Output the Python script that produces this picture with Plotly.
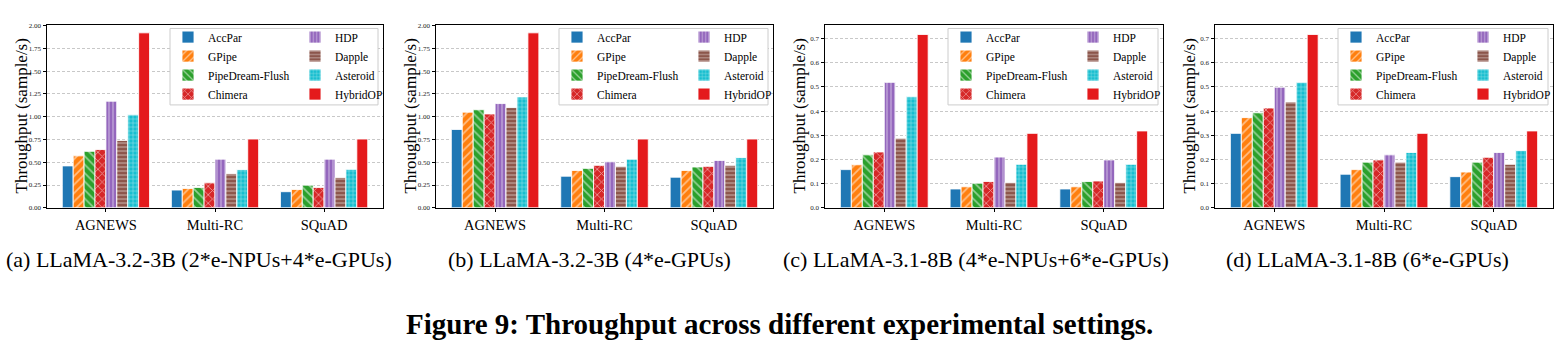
import plotly.graph_objects as go

W, H = 1559, 350

datasets = ["AGNEWS", "Multi-RC", "SQuAD"]
methods = ["AccPar", "GPipe", "PipeDream-Flush", "Chimera", "HDP", "Dapple", "Asteroid", "HybridOP"]

# values per method: [AGNEWS, Multi-RC, SQuAD]
vals_a = {
    "AccPar": [0.46, 0.195, 0.177],
    "GPipe": [0.57, 0.213, 0.202],
    "PipeDream-Flush": [0.62, 0.224, 0.249],
    "Chimera": [0.64, 0.274, 0.224],
    "HDP": [1.17, 0.534, 0.534],
    "Dapple": [0.74, 0.375, 0.332],
    "Asteroid": [1.02, 0.419, 0.422],
    "HybridOP": [1.92, 0.755, 0.755],
}
vals_b = {
    "AccPar": [0.86, 0.347, 0.336],
    "GPipe": [1.05, 0.41, 0.41],
    "PipeDream-Flush": [1.076, 0.433, 0.448],
    "Chimera": [1.03, 0.466, 0.455],
    "HDP": [1.144, 0.505, 0.52],
    "Dapple": [1.10, 0.455, 0.466],
    "Asteroid": [1.217, 0.534, 0.552],
    "HybridOP": [1.92, 0.755, 0.755],
}
vals_c = {
    "AccPar": [0.158, 0.078, 0.078],
    "GPipe": [0.178, 0.087, 0.087],
    "PipeDream-Flush": [0.219, 0.102, 0.109],
    "Chimera": [0.231, 0.109, 0.111],
    "HDP": [0.519, 0.21, 0.198],
    "Dapple": [0.288, 0.105, 0.105],
    "Asteroid": [0.459, 0.18, 0.18],
    "HybridOP": [0.717, 0.308, 0.318],
}
vals_d = {
    "AccPar": [0.308, 0.139, 0.129],
    "GPipe": [0.373, 0.158, 0.148],
    "PipeDream-Flush": [0.393, 0.189, 0.189],
    "Chimera": [0.413, 0.198, 0.209],
    "HDP": [0.499, 0.219, 0.229],
    "Dapple": [0.438, 0.189, 0.18],
    "Asteroid": [0.519, 0.229, 0.237],
    "HybridOP": [0.717, 0.308, 0.318],
}

captions = [
    "(a) LLaMA-3.2-3B (2*e-NPUs+4*e-GPUs)",
    "(b) LLaMA-3.2-3B (4*e-GPUs)",
    "(c) LLaMA-3.1-8B (4*e-NPUs+6*e-GPUs)",
    "(d) LLaMA-3.1-8B (6*e-GPUs)",
]
fig_title = "Figure 9: Throughput across different experimental settings."
y_title = "Throughput (sample/s)"

colors = {
    "AccPar": "#1f77b4", "GPipe": "#ff7f0e", "PipeDream-Flush": "#2ca02c",
    "Chimera": "#d62728", "HDP": "#9467bd", "Dapple": "#8c564b",
    "Asteroid": "#17becf", "HybridOP": "#e41a1c",
}
patterns = {
    "AccPar": ("", 6), "GPipe": ("/", 6), "PipeDream-Flush": ("\\", 6),
    "Chimera": ("x", 6), "HDP": ("|", 4), "Dapple": ("-", 4),
    "Asteroid": ("+", 4), "HybridOP": ("", 6),
}

panels = [vals_a, vals_b, vals_c, vals_d]
yranges = [[0, 2.0055], [0, 2.0055], [0, 0.756], [0, 0.756]]
ydticks = [0.25, 0.25, 0.1, 0.1]
yfmts = [".2f", ".2f", ".1f", ".1f"]

# pixel layout
ax_left = [47, 436, 825, 1215]
ax_right = [383, 773, 1163, 1553]
ax_top, ax_bot = 22.5, 209
SERIF = "Liberation Serif"

def px(x):
    return x / W

def py(y):
    return 1 - y / H

fig = go.Figure()
layout = dict(
    width=W, height=H, margin=dict(l=0, r=0, t=0, b=0),
    paper_bgcolor="white", plot_bgcolor="white",
    barmode="group", bargap=0.2, bargroupgap=0.0,
    font=dict(family=SERIF, color="black"),
)
shapes, annotations = [], []

for k, vals in enumerate(panels):
    xa = "x" if k == 0 else f"x{k+1}"
    ya = "y" if k == 0 else f"y{k+1}"
    for i, m in enumerate(methods):
        lid = 2 * k + (1 if i < 4 else 2)
        lname = "legend" if lid == 1 else f"legend{lid}"
        shape, size = patterns[m]
        fig.add_trace(go.Bar(
            x=datasets, y=vals[m], name=m, xaxis=xa, yaxis=ya,
            legend=lname, offsetgroup=str(i),
            marker=dict(
                color=colors[m],
                line=dict(color="rgba(255,255,255,0.85)", width=1),
                pattern=dict(shape=shape, fgcolor="white", bgcolor=colors[m],
                             size=size, solidity=0.28, fillmode="overlay"),
            ),
        ))
    xkey = "xaxis" if k == 0 else f"xaxis{k+1}"
    ykey = "yaxis" if k == 0 else f"yaxis{k+1}"
    layout[xkey] = dict(
        domain=[px(ax_left[k]), px(ax_right[k])], anchor=ya,
        type="category", categoryorder="array", categoryarray=datasets,
        range=[-0.54, 2.54], showline=True, linecolor="black", linewidth=1,
        mirror=True, ticks="outside", ticklen=3.5, tickcolor="black",
        tickfont=dict(family=SERIF, size=14.5, color="black"), showgrid=False,
    )
    layout[ykey] = dict(
        domain=[py(ax_bot), py(ax_top)], anchor=xa,
        range=yranges[k], dtick=ydticks[k], tick0=0, tickformat=yfmts[k],
        showline=True, linecolor="black", linewidth=1, mirror=True,
        ticks="outside", ticklen=3.5, tickcolor="black",
        tickfont=dict(family=SERIF, size=7, color="#222"),
        showgrid=True, gridcolor="#c8c8c8", griddash="3px,2px", gridwidth=0.8,
        zeroline=False,
    )
    # legend frame
    fx0 = ax_left[k] + 123
    fx1 = ax_right[k] - 5
    fy0, fy1 = 26, 104
    shapes.append(dict(type="rect", xref="paper", yref="paper",
                       x0=px(fx0), x1=px(fx1), y0=py(fy1), y1=py(fy0),
                       line=dict(color="#cccccc", width=1), fillcolor="white",
                       layer="above"))
    for col in range(2):
        lid = 2 * k + 1 + col
        lname = "legend" if lid == 1 else f"legend{lid}"
        lx = fx0 - 2 + col * 127
        layout[lname] = dict(
            x=px(lx), y=py(20), xanchor="left", yanchor="top",
            orientation="v", bgcolor="rgba(0,0,0,0)", borderwidth=0,
            font=dict(family=SERIF, size=11.5, color="black"),
            traceorder="normal", itemclick=False, itemdoubleclick=False,
        )
    # y title
    annotations.append(dict(
        text=y_title, xref="paper", yref="paper",
        x=px(ax_left[k] - 26), y=py((ax_top + ax_bot) / 2),
        xanchor="center", yanchor="middle", textangle=-90, showarrow=False,
        font=dict(family=SERIF, size=17, color="black"),
    ))

cap_cx = [199, 589, 976, 1367]
for k in range(4):
    annotations.append(dict(
        text=captions[k], xref="paper", yref="paper",
        x=px(cap_cx[k]), y=py(262), xanchor="center", yanchor="middle",
        showarrow=False, font=dict(family=SERIF, size=22, color="black"),
    ))
annotations.append(dict(
    text=f"<b>{fig_title}</b>", xref="paper", yref="paper",
    x=px(779), y=py(328), xanchor="center", yanchor="middle",
    showarrow=False, font=dict(family=SERIF, size=29, color="black"),
))

layout["shapes"] = shapes
layout["annotations"] = annotations
fig.update_layout(**layout)
fig.write_html("out.html")
